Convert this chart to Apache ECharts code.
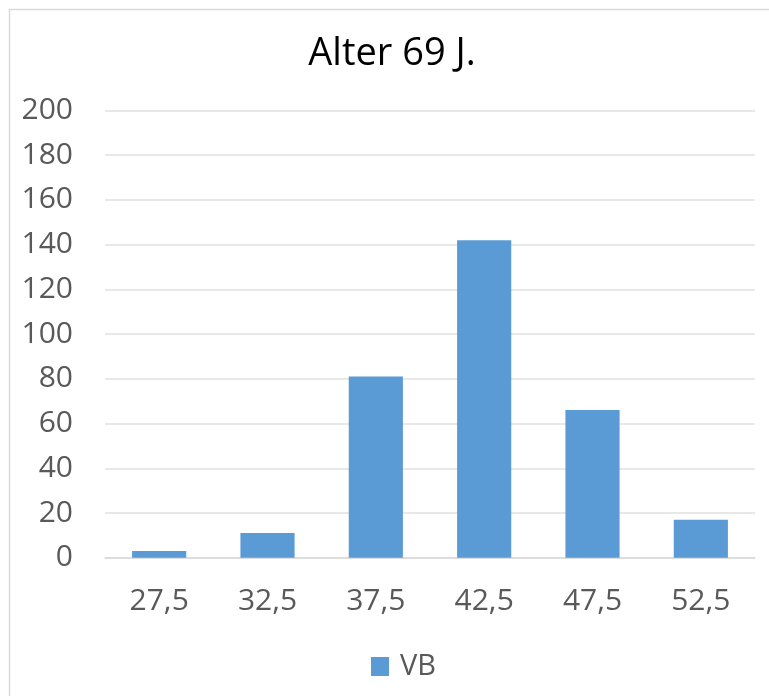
<!DOCTYPE html>
<html><head><meta charset="utf-8">
<script src="https://cdn.jsdelivr.net/npm/echarts@6/dist/echarts.min.js"></script>
<style>html,body{margin:0;padding:0;background:#fff}#c{width:769px;height:696px}</style>
</head><body><div id="c"></div>
<script>
const categories = ['27,5','32,5','37,5','42,5','47,5','52,5'];
const seriesName = 'VB';
const values = [3, 11, 81, 142, 66, 17];
const titleText = 'Alter 69 J.';
const yMin = 0, yMax = 200, yStep = 20;

const chart = echarts.init(document.getElementById('c'), null, {renderer:'canvas'});
const font = '"Open Sans", "Liberation Sans", sans-serif';
chart.setOption({
  animation: false,
  backgroundColor: '#fff',
  graphic: [{type:'rect', left:7, top:7, shape:{width:800, height:800}, style:{fill:'none', stroke:'#d9d9d9', lineWidth:1.5}, silent:true, z:-1}],
  title: {text: titleText, left: 387, top: 30, textAlign: 'center',
    textStyle:{fontFamily: font, fontSize: 38, fontWeight:'normal', color:'#000'}},
  legend: {data:[seriesName], top: 647, left: 366, itemWidth: 18, itemHeight: 19, itemGap: 6,
    icon: 'rect', textStyle:{fontFamily: font, fontSize: 29, color:'#595959', padding:[0,0,0,6]}},
  grid: {left: 105, right: 14, top: 110.5, bottom: 138.3, containLabel: false},
  xAxis: {type:'category', data: categories,
    axisLine:{lineStyle:{color:'#d9d9d9', width:1.5}}, axisTick:{show:false},
    axisLabel:{fontFamily: font, fontSize: 30, color:'#595959', margin: 29}},
  yAxis: {type:'value', min:yMin, max:yMax, interval:yStep,
    axisLine:{show:false}, axisTick:{show:false},
    splitLine:{lineStyle:{color:'#e0e0e0', width:1.5}},
    axisLabel:{fontFamily: font, fontSize: 30, color:'#595959', margin: 32}},
  series: [{name: seriesName, type:'bar', data: values, barWidth:'50%',
    itemStyle:{color:'#5b9bd5'}}]
});
</script></body></html>
